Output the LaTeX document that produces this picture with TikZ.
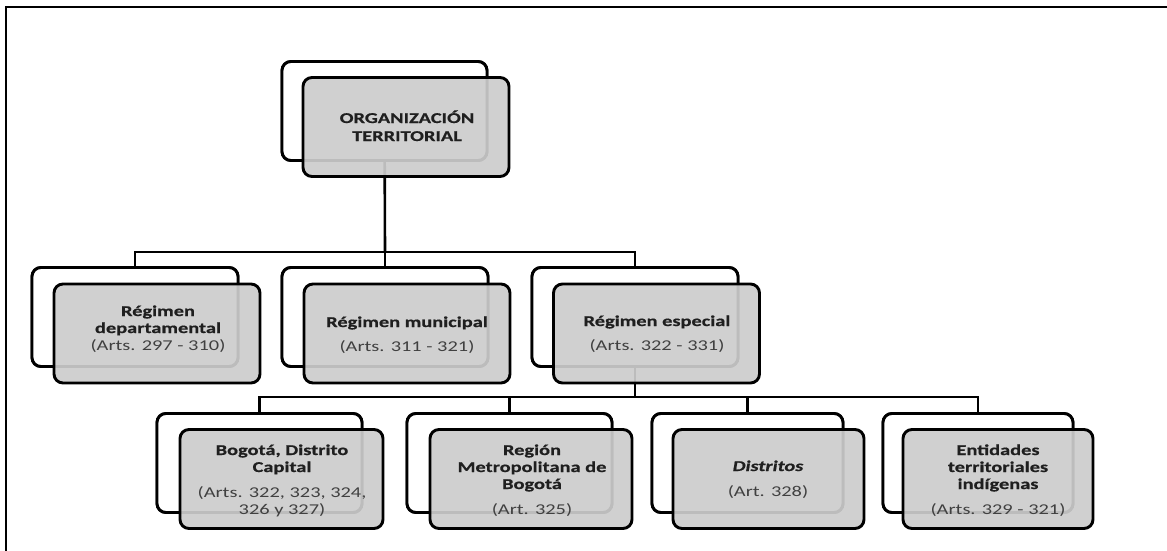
\documentclass[tikz,border=0pt]{standalone}
\usepackage{fontspec}
\setmainfont{Carlito}[FakeStretch=1.36, BoldFeatures={FakeBold=0.6}, BoldItalicFeatures={FakeBold=0.6}]
\begin{document}
\begin{tikzpicture}[x=1pt,y=-1pt,
  backbox/.style={draw=black, line width=2.9pt, rounded corners=9pt, fill=white, inner sep=0pt, minimum width=#1, minimum height=99pt},
  frontbox/.style={draw=black, line width=2.9pt, rounded corners=9pt, fill=black!20, fill opacity=0.92, inner sep=0pt, minimum width=#1, minimum height=99pt},
  conn/.style={line width=2.6pt},
  lbl/.style={anchor=base, align=center, inner sep=0pt, text=black!88, font=\bfseries\fontsize{15}{17}\selectfont}
]
\useasboundingbox (0,0) rectangle (1167,550);
\clip (0,0) rectangle (1167,550);
\draw[line width=1.6pt] (6,600) -- (6,7) -- (1200,7);

% coordinates of the bars
\coordinate (bar1) at (385,252);
\coordinate (bar2) at (635,397);

% back boxes (for anchoring the connectors)
\node[backbox=205] (topB) at (384.5,111) {};
\node[backbox=206] (depB) at (135,317) {};
\node[backbox=206] (munB) at (385,317) {};
\node[backbox=206] (espB) at (635,317) {};
\node[backbox=205] (bogB) at (259.5,463) {};
\node[backbox=205] (regB) at (509.5,463) {};
\node[backbox=191] (disB) at (747.5,463) {};
\node[backbox=190] (entB) at (978,463) {};

% connectors
\draw[conn] (topB.center) -- (bar1);
\draw[conn] (depB.north) |- (bar1) -| (espB.north);
\draw[conn] (munB.north) -- (munB.north |- bar1);
\draw[conn] (espB.center) -- (bar2);
\draw[conn] (bogB.north) |- (bar2) -| (entB.north);
\draw[conn] (regB.north) -- (regB.north |- bar2);
\draw[conn] (disB.north) -- (disB.north |- bar2);

% back boxes again, over the connectors
\node[backbox=205] (topB2) at (topB) {};
\node[backbox=206] (depB2) at (depB) {};
\node[backbox=206] (munB2) at (munB) {};
\node[backbox=206] (espB2) at (espB) {};
\node[backbox=205] (bogB2) at (bogB) {};
\node[backbox=205] (regB2) at (regB) {};
\node[backbox=191] (disB2) at (disB) {};
\node[backbox=190] (entB2) at (entB) {};

% front boxes
\node[frontbox=206] (topF) at (406,127) {};
\node[frontbox=206] (depF) at (157,333.5) {};
\node[frontbox=206] (munF) at (407,333.5) {};
\node[frontbox=206] (espF) at (656.5,333.5) {};
\node[frontbox=203] (bogF) at (281.5,479) {};
\node[frontbox=202] (regF) at (531,479) {};
\node[frontbox=191] (disF) at (768.5,479) {};
\node[frontbox=190] (entF) at (998,479) {};

% labels (anchored at the baseline of their last line)
\node[lbl] (topT) at (407,141) {ORGANIZACIÓN\\[1pt]TERRITORIAL};
\node[lbl] (depT) at (158,350) {Régimen\\departamental\\{\mdseries\color{black!75}(Arts. 297 - 310)}};
\node[lbl] (munT) at (407,351) {Régimen municipal\\[7pt]{\mdseries\color{black!75}(Arts. 311 - 321)}};
\node[lbl] (espT) at (657,350) {Régimen especial\\[7pt]{\mdseries\color{black!75}(Arts. 322 - 331)}};
\node[lbl] (bogT) at (282,514) {Bogotá, Distrito\\Capital\\[8pt]{\mdseries\color{black!75}(Arts. 322, 323, 324,}\\{\mdseries\color{black!75}326 y 327)}};
\node[lbl] (regT) at (532,514) {Región\\Metropolitana de\\Bogotá\\[8pt]{\mdseries\color{black!75}(Art. 325)}};
\node[lbl] (disT) at (768,496) {\textit{Distritos}\\[8pt]{\mdseries\color{black!75}(Art. 328)}};
\node[lbl] (entT) at (998,514) {Entidades\\territoriales\\indígenas\\[8pt]{\mdseries\color{black!75}(Arts. 329 - 321)}};
\end{tikzpicture}
\end{document}
